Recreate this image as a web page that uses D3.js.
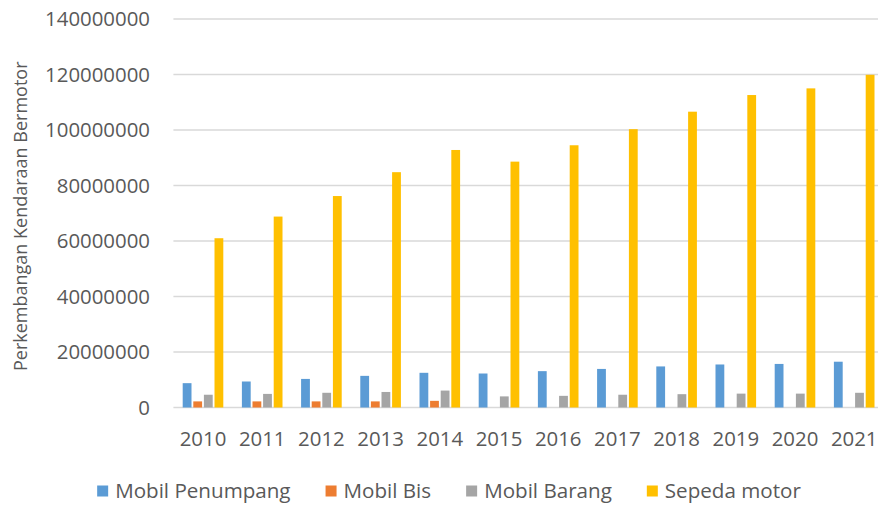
<!DOCTYPE html>
<html>
<head>
<meta charset="utf-8">
<title></title>
<style>
body {
  margin: 0;
  background: #fff;
}
text {
  font-family: "Open Sans", sans-serif;
  fill: #595959;
}
.grid line {
  stroke: #d9d9d9;
  stroke-width: 1.5px;
}
</style>
</head>
<body>
<script src="https://cdn.jsdelivr.net/npm/d3@7"></script>
<script>

// years on the x axis
var years = ["2010", "2011", "2012", "2013", "2014", "2015", "2016", "2017", "2018", "2019", "2020", "2021"];

var seriesNames = ["Mobil Penumpang", "Mobil Bis", "Mobil Barang", "Sepeda motor"];
var seriesColors = ["#5b9bd5", "#ed7d31", "#a5a5a5", "#ffc000"];

// values
var mobilPenumpang = [8770000, 9370000, 10300000, 11400000, 12500000, 12250000, 13100000, 13900000, 14800000, 15500000, 15700000, 16500000];
var mobilBis = [2200000, 2200000, 2200000, 2200000, 2400000, 0, 0, 0, 0, 0, 0, 0];
var mobilBarang = [4600000, 4900000, 5300000, 5600000, 6100000, 4000000, 4200000, 4600000, 4800000, 5000000, 5000000, 5300000];
var sepedaMotor = [61000000, 68800000, 76200000, 84800000, 92800000, 88600000, 94500000, 100300000, 106600000, 112600000, 115000000, 119900000];

var yTicks = [0, 20000000, 40000000, 60000000, 80000000, 100000000, 120000000, 140000000];

var allSeries = [mobilPenumpang, mobilBis, mobilBarang, sepedaMotor];

var data = years.map(function(y, i) {
  return {
    year: y,
    values: allSeries.map(function(s, k) { return {key: seriesNames[k], value: s[i]}; })
  };
});

var width = 878, height = 506;
var margin = {top: 19, left: 173.4, bottom: 98.5};

var svg = d3.select("body").append("svg")
    .attr("width", width)
    .attr("height", height);

// the plot runs off the right edge of the picture
var x = d3.scaleBand()
    .domain(years)
    .range([margin.left, margin.left + 12 * 59.2]);

var groupW = x.bandwidth() * 0.686;
var x1 = d3.scaleBand()
    .domain(seriesNames)
    .range([0, groupW])
    .paddingInner(0.17);

var y = d3.scaleLinear()
    .domain([0, 140000000])
    .range([height - margin.bottom, margin.top]);

var color = d3.scaleOrdinal().domain(seriesNames).range(seriesColors);

// gridlines
svg.append("g")
    .attr("class", "grid")
    .selectAll("line")
    .data(yTicks)
    .enter().append("line")
    .attr("x1", margin.left)
    .attr("x2", width + 10)
    .attr("y1", function(d) { return y(d); })
    .attr("y2", function(d) { return y(d); });

// y tick labels
svg.append("g")
    .selectAll("text")
    .data(yTicks)
    .enter().append("text")
    .attr("x", 150)
    .attr("y", function(d) { return y(d); })
    .attr("dy", "0.36em")
    .attr("text-anchor", "end")
    .style("font-size", "20.4px")
    .text(function(d) { return d; });

// bars
var groups = svg.append("g")
    .selectAll("g")
    .data(data)
    .enter().append("g")
    .attr("transform", function(d) {
        return "translate(" + (x(d.year) + (x.bandwidth() - groupW) / 2) + ",0)";
    });

groups.selectAll("rect")
    .data(function(d) { return d.values; })
    .enter().append("rect")
    .attr("x", function(d) { return x1(d.key); })
    .attr("width", x1.bandwidth())
    .attr("y", function(d) { return y(d.value); })
    .attr("height", function(d) { return y(0) - y(d.value); })
    .style("fill", function(d) { return color(d.key); });

// x labels
svg.append("g")
    .selectAll("text")
    .data(years)
    .enter().append("text")
    .attr("x", function(d) { return x(d) + x.bandwidth() / 2; })
    .attr("y", 445.6)
    .attr("text-anchor", "middle")
    .style("font-size", "20.4px")
    .text(function(d) { return d; });

// y axis title
svg.append("text")
    .attr("transform", "translate(21," + ((y(0) + y(140000000)) / 2 + 3) + ") rotate(-90)")
    .attr("text-anchor", "middle")
    .attr("dy", "0.35em")
    .style("font-size", "18px")
    .text("Perkembangan Kendaraan Bermotor");

// legend, laid out left to right then centred
var legend = svg.append("g");
var items = legend.selectAll("g")
    .data(seriesNames)
    .enter().append("g");
items.append("rect")
    .attr("width", 11)
    .attr("height", 11)
    .attr("y", -5.5)
    .style("fill", function(d) { return color(d); });
items.append("text")
    .attr("x", 18)
    .attr("dy", "0.36em")
    .style("font-size", "20.6px")
    .text(function(d) { return d; });

var cx = 0;
items.each(function(d) {
  var w = 18 + d3.select(this).select("text").node().getComputedTextLength();
  d3.select(this).attr("transform", "translate(" + cx + ",0)");
  cx += w + 35;
});
var totalW = cx - 35;
legend.attr("transform", "translate(" + (449 - totalW / 2) + ",491)");

</script>
</body>
</html>
